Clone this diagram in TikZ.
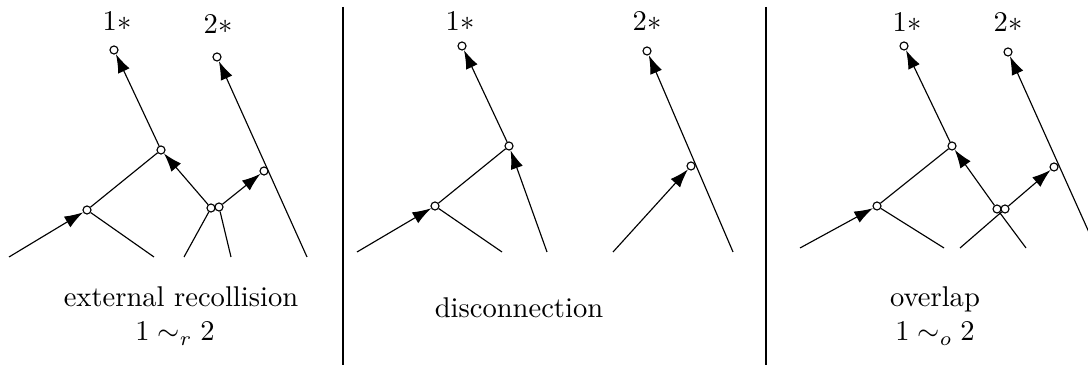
\documentclass[tikz,border=0pt]{standalone}
\usetikzlibrary{arrows.meta,backgrounds}
\begin{document}
\begin{tikzpicture}[x=0.35pt,y=-0.35pt,
  dot/.style={circle,draw,fill=white,inner sep=0pt,minimum size=2.8pt},
  arr/.style={-{Latex[length=6.5pt,width=4.4pt]}},
  lab/.style={anchor=base,inner sep=0pt},
  sep/.style={line width=0.45pt}]
\useasboundingbox (0,0) rectangle (1088,365);
\clip (0,0) rectangle (1088,365);
% ---------- panel 1 ----------
\node[dot] (at1) at (114,50) {};
\node[dot] (at2) at (217,57) {};
\node[dot] (am1) at (161,150) {};
\node[dot] (aj1) at (87,210) {};
\node[dot] (ar1) at (264,171) {};
\node[dot] (ada) at (211,208) {};
\node[dot] (adb) at (219,207) {};
\coordinate (ab1) at (9,257);
\coordinate (ab2) at (154,257);
\coordinate (ab3) at (184,257);
\coordinate (ab4) at (231,257);
\coordinate (ab5) at (307,257);
\node[lab] (al1) at (117,31) {$1*$};
\node[lab] (al2) at (218,34) {$2*$};
\node[lab] (atx1) at (181,307) {external recollision};
\node[lab] (atx2) at (175,341) {$1\sim_r 2$};
% ---------- panel 2 ----------
\node[dot] (bt1) at (462,46) {};
\node[dot] (bt2) at (647,51) {};
\node[dot] (bm1) at (509,146) {};
\node[dot] (bj1) at (435,206) {};
\node[dot] (br1) at (691,166) {};
\coordinate (bb1) at (357,252);
\coordinate (bb2) at (502,252);
\coordinate (bb3) at (547,252);
\coordinate (bb4) at (613,252);
\coordinate (bb5) at (733,252);
\node[lab] (bl1) at (460,31) {$1*$};
\node[lab] (bl2) at (647,31) {$2*$};
\node[lab] (btx1) at (519,318) {disconnection};
% ---------- panel 3 ----------
\node[dot] (ct1) at (904,46) {};
\node[dot] (ct2) at (1008,52) {};
\node[dot] (cm1) at (952,146) {};
\node[dot] (cj1) at (877,206) {};
\node[dot] (cr1) at (1054,167) {};
\node[dot] (cda) at (997,209) {};
\node[dot] (cdb) at (1005,209) {};
\coordinate (cb1) at (800,248);
\coordinate (cb2) at (944,248);
\coordinate (cb3) at (960,248);
\coordinate (cb4) at (1026,248);
\coordinate (cb5) at (1096,248);
\node[lab] (cl1) at (907,32) {$1*$};
\node[lab] (cl2) at (1008,32) {$2*$};
\node[lab] (ctx1) at (935,307) {overlap};
\node[lab] (ctx2) at (935,341) {$1\sim_o 2$};
% separators
\coordinate (s1t) at (343,7); \coordinate (s1b) at (343,370);
\coordinate (s2t) at (766,7); \coordinate (s2b) at (766,370);
\begin{pgfonlayer}{background}
\draw[sep] (s1t) -- (s1b);
\draw[sep] (s2t) -- (s2b);
% panel 1 edges
\draw[arr] (ab1) -- (aj1);
\draw (aj1) -- (ab2);
\draw (aj1) -- (am1);
\draw[arr] (am1) -- (at1);
\draw[arr] (ada) -- (am1);
\draw (ab3) -- (ada);
\draw (ab4) -- (adb);
\draw[arr] (adb) -- (ar1);
\draw[arr] (ab5) -- (at2);
% panel 2 edges
\draw[arr] (bb1) -- (bj1);
\draw (bj1) -- (bb2);
\draw (bj1) -- (bm1);
\draw[arr] (bm1) -- (bt1);
\draw[arr] (bb3) -- (bm1);
\draw[arr] (bb4) -- (br1);
\draw[arr] (bb5) -- (bt2);
% panel 3 edges
\draw[arr] (cb1) -- (cj1);
\draw (cj1) -- (cb2);
\draw (cj1) -- (cm1);
\draw[arr] (cm1) -- (ct1);
\draw (cb4) -- (cda);
\draw[arr] (cda) -- (cm1);
\draw (cb3) -- (cdb);
\draw[arr] (cdb) -- (cr1);
\draw[arr] (cb5) -- (ct2);
\end{pgfonlayer}
\end{tikzpicture}
\end{document}
